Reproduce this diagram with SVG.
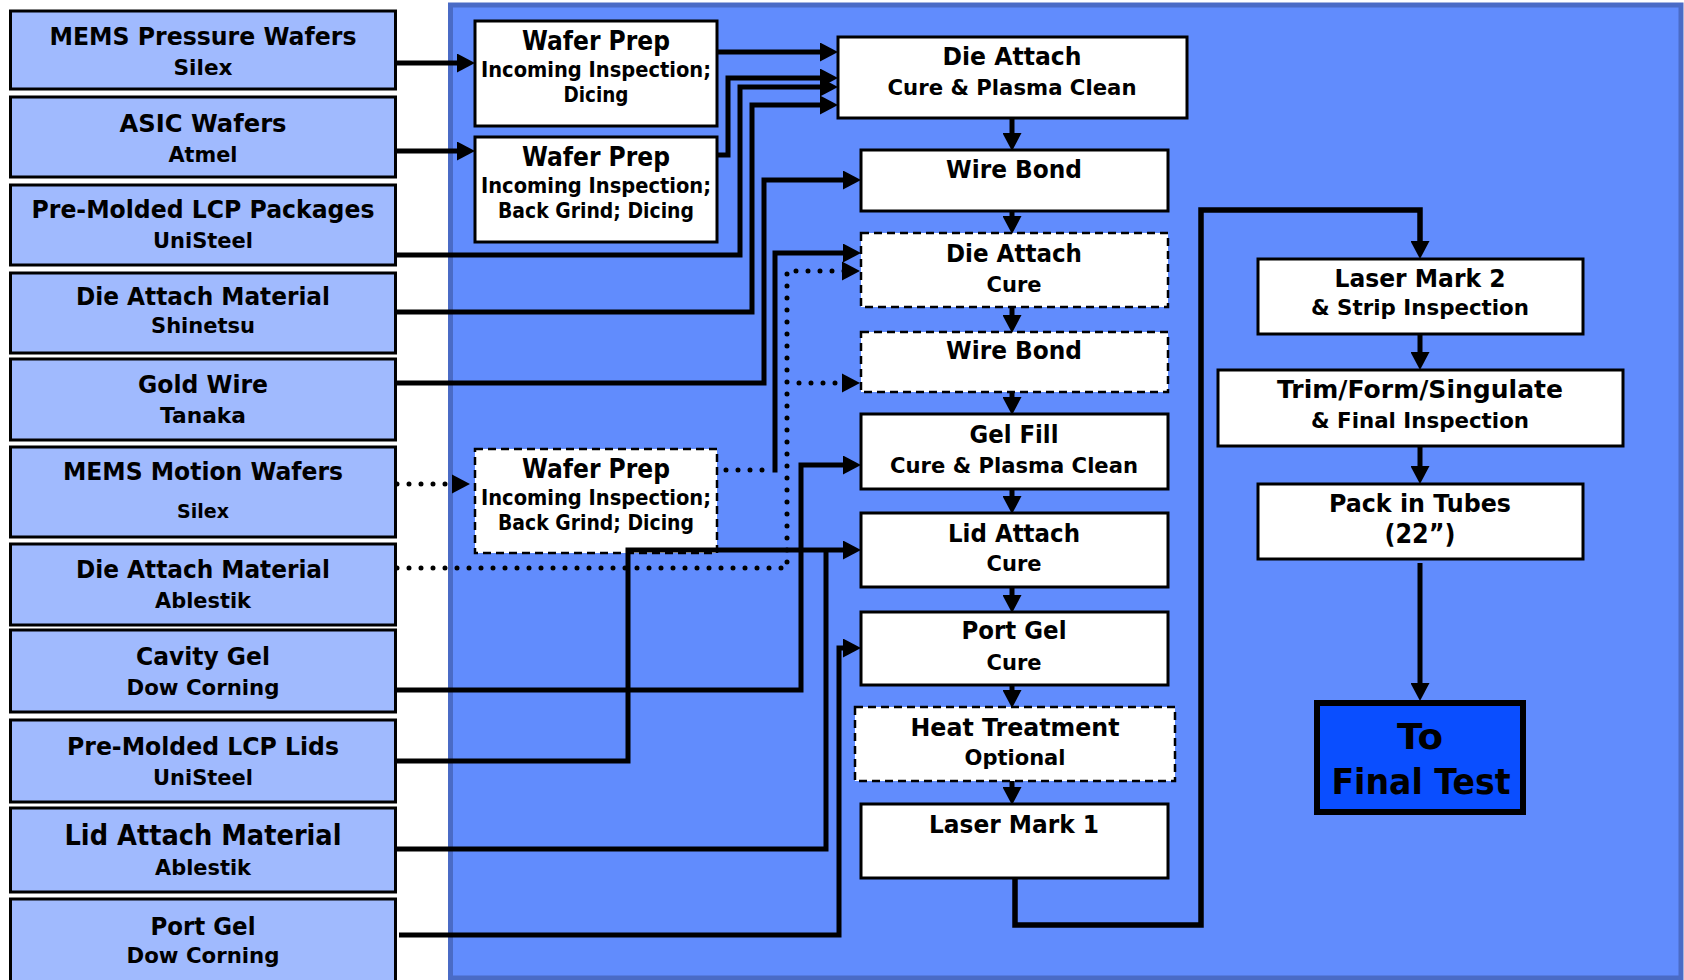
<svg xmlns="http://www.w3.org/2000/svg" width="1684" height="980" viewBox="0 0 1684 980">
<defs>
<marker id="ah" markerUnits="userSpaceOnUse" markerWidth="18" markerHeight="19" refX="9" refY="9.5" orient="auto">
<path d="M0,0 L18,9.5 L0,19 Z" fill="#000"/>
</marker>
<style>
text{font-family:"DejaVu Sans","Liberation Sans",sans-serif;font-weight:bold;fill:#000;text-anchor:middle}
.t{font-size:25.5px}
.s{font-size:22px}
.w{font-size:20.5px}
.big{font-size:35px}
.src{fill:#A0BAFE;stroke:#000;stroke-width:3}
.box{fill:#fff;stroke:#000;stroke-width:3}
.dbox{fill:#fff;stroke:#000;stroke-width:2.5;stroke-dasharray:8 5}
.ln{fill:none;stroke:#000;stroke-width:5;stroke-linejoin:miter}
.dot{fill:none;stroke:#000;stroke-width:5;stroke-linecap:round;stroke-dasharray:0 12}
</style>
</defs>
<rect width="1684" height="980" fill="#fff"/>
<rect id="panel" x="450.5" y="5" width="1230.5" height="973" fill="#618CFD" stroke="#4A6BC6" stroke-width="5"/>

<g id="src-mems-pressure"><rect class="src" x="10.5" y="11" width="385" height="78"/><text class="t" x="203" y="45" textLength="307" lengthAdjust="spacingAndGlyphs">MEMS Pressure Wafers</text><text class="s" x="203" y="75" textLength="59" lengthAdjust="spacingAndGlyphs">Silex</text></g>
<g id="src-asic"><rect class="src" x="10.5" y="97" width="385" height="80"/><text class="t" x="203" y="132" textLength="167" lengthAdjust="spacingAndGlyphs">ASIC Wafers</text><text class="s" x="203" y="162" textLength="69" lengthAdjust="spacingAndGlyphs">Atmel</text></g>
<g id="src-lcp-packages"><rect class="src" x="10.5" y="185" width="385" height="80"/><text class="t" x="203" y="218" textLength="343" lengthAdjust="spacingAndGlyphs">Pre-Molded LCP Packages</text><text class="s" x="203" y="248" textLength="100" lengthAdjust="spacingAndGlyphs">UniSteel</text></g>
<g id="src-die-attach-shinetsu"><rect class="src" x="10.5" y="273" width="385" height="80"/><text class="t" x="203" y="305" textLength="254" lengthAdjust="spacingAndGlyphs">Die Attach Material</text><text class="s" x="203" y="333" textLength="104" lengthAdjust="spacingAndGlyphs">Shinetsu</text></g>
<g id="src-gold-wire"><rect class="src" x="10.5" y="359" width="385" height="81"/><text class="t" x="203" y="393" textLength="130" lengthAdjust="spacingAndGlyphs">Gold Wire</text><text class="s" x="203" y="423" textLength="86" lengthAdjust="spacingAndGlyphs">Tanaka</text></g>
<g id="src-mems-motion"><rect class="src" x="10.5" y="447" width="385" height="90"/><text class="t" x="203" y="480" textLength="280" lengthAdjust="spacingAndGlyphs">MEMS Motion Wafers</text><text class="s" x="203" y="518" style="font-size:20px" textLength="52" lengthAdjust="spacingAndGlyphs">Silex</text></g>
<g id="src-die-attach-ablestik"><rect class="src" x="10.5" y="544" width="385" height="81"/><text class="t" x="203" y="578" textLength="254" lengthAdjust="spacingAndGlyphs">Die Attach Material</text><text class="s" x="203" y="608" textLength="96" lengthAdjust="spacingAndGlyphs">Ablestik</text></g>
<g id="src-cavity-gel"><rect class="src" x="10.5" y="630" width="385" height="82"/><text class="t" x="203" y="665" textLength="134" lengthAdjust="spacingAndGlyphs">Cavity Gel</text><text class="s" x="203" y="695" textLength="153" lengthAdjust="spacingAndGlyphs">Dow Corning</text></g>
<g id="src-lcp-lids"><rect class="src" x="10.5" y="720" width="385" height="82"/><text class="t" x="203" y="755" textLength="272" lengthAdjust="spacingAndGlyphs">Pre-Molded LCP Lids</text><text class="s" x="203" y="785" textLength="100" lengthAdjust="spacingAndGlyphs">UniSteel</text></g>
<g id="src-lid-attach"><rect class="src" x="10.5" y="808" width="385" height="84"/><text class="t" x="203" y="845" style="font-size:27.5px" textLength="277" lengthAdjust="spacingAndGlyphs">Lid Attach Material</text><text class="s" x="203" y="875" textLength="96" lengthAdjust="spacingAndGlyphs">Ablestik</text></g>
<g id="src-port-gel"><rect class="src" x="10.5" y="899" width="385" height="95"/><text class="t" x="203" y="935" textLength="105" lengthAdjust="spacingAndGlyphs">Port Gel</text><text class="s" x="203" y="963" textLength="153" lengthAdjust="spacingAndGlyphs">Dow Corning</text></g>

<g id="wafer-prep-1"><rect class="box" x="475" y="21" width="242" height="105"/><text class="t" x="596" y="50" style="font-size:27px" textLength="148" lengthAdjust="spacingAndGlyphs">Wafer Prep</text><text class="w" x="596" y="77" textLength="230" lengthAdjust="spacingAndGlyphs">Incoming Inspection;</text><text class="w" x="596" y="102" textLength="65" lengthAdjust="spacingAndGlyphs">Dicing</text></g>
<g id="wafer-prep-2"><rect class="box" x="475" y="137" width="242" height="105"/><text class="t" x="596" y="166" style="font-size:27px" textLength="148" lengthAdjust="spacingAndGlyphs">Wafer Prep</text><text class="w" x="596" y="193" textLength="230" lengthAdjust="spacingAndGlyphs">Incoming Inspection;</text><text class="w" x="596" y="218" textLength="196" lengthAdjust="spacingAndGlyphs">Back Grind; Dicing</text></g>
<g id="wafer-prep-3"><rect class="dbox" x="475" y="449" width="242" height="104"/><text class="t" x="596" y="478" style="font-size:27px" textLength="148" lengthAdjust="spacingAndGlyphs">Wafer Prep</text><text class="w" x="596" y="505" textLength="230" lengthAdjust="spacingAndGlyphs">Incoming Inspection;</text><text class="w" x="596" y="530" textLength="196" lengthAdjust="spacingAndGlyphs">Back Grind; Dicing</text></g>

<g id="die-attach-1"><rect class="box" x="838" y="37" width="349" height="81"/><text class="t" x="1012" y="65" textLength="139" lengthAdjust="spacingAndGlyphs">Die Attach</text><text class="s" x="1012" y="95" textLength="249" lengthAdjust="spacingAndGlyphs">Cure &amp; Plasma Clean</text></g>
<g id="wire-bond-1"><rect class="box" x="861" y="150" width="307" height="61"/><text class="t" x="1014" y="178" textLength="136" lengthAdjust="spacingAndGlyphs">Wire Bond</text></g>
<g id="die-attach-2"><rect class="dbox" x="861" y="233" width="307" height="74"/><text class="t" x="1014" y="262" textLength="136" lengthAdjust="spacingAndGlyphs">Die Attach</text><text class="s" x="1014" y="292" textLength="55" lengthAdjust="spacingAndGlyphs">Cure</text></g>
<g id="wire-bond-2"><rect class="dbox" x="861" y="332" width="307" height="60"/><text class="t" x="1014" y="359" textLength="136" lengthAdjust="spacingAndGlyphs">Wire Bond</text></g>
<g id="gel-fill"><rect class="box" x="861" y="414" width="307" height="75"/><text class="t" x="1014" y="443" textLength="89" lengthAdjust="spacingAndGlyphs">Gel Fill</text><text class="s" x="1014" y="473" textLength="248" lengthAdjust="spacingAndGlyphs">Cure &amp; Plasma Clean</text></g>
<g id="lid-attach"><rect class="box" x="861" y="513" width="307" height="74"/><text class="t" x="1014" y="542" textLength="132" lengthAdjust="spacingAndGlyphs">Lid Attach</text><text class="s" x="1014" y="571" textLength="55" lengthAdjust="spacingAndGlyphs">Cure</text></g>
<g id="port-gel"><rect class="box" x="861" y="612" width="307" height="73"/><text class="t" x="1014" y="639" textLength="105" lengthAdjust="spacingAndGlyphs">Port Gel</text><text class="s" x="1014" y="670" textLength="55" lengthAdjust="spacingAndGlyphs">Cure</text></g>
<g id="heat-treatment"><rect class="dbox" x="855" y="707" width="320" height="74"/><text class="t" x="1015" y="736" textLength="209" lengthAdjust="spacingAndGlyphs">Heat Treatment</text><text class="s" x="1015" y="765" textLength="101" lengthAdjust="spacingAndGlyphs">Optional</text></g>
<g id="laser-mark-1"><rect class="box" x="861" y="804" width="307" height="74"/><text class="t" x="1014" y="833" textLength="170" lengthAdjust="spacingAndGlyphs">Laser Mark 1</text></g>

<g id="laser-mark-2"><rect class="box" x="1258" y="259" width="325" height="75"/><text class="t" x="1420" y="287" textLength="171" lengthAdjust="spacingAndGlyphs">Laser Mark 2</text><text class="s" x="1420" y="315" textLength="218" lengthAdjust="spacingAndGlyphs">&amp; Strip Inspection</text></g>
<g id="trim-form"><rect class="box" x="1218" y="370" width="405" height="76"/><text class="t" x="1420" y="398" textLength="286" lengthAdjust="spacingAndGlyphs">Trim/Form/Singulate</text><text class="s" x="1420" y="428" textLength="218" lengthAdjust="spacingAndGlyphs">&amp; Final Inspection</text></g>
<g id="pack-tubes"><rect class="box" x="1258" y="484" width="325" height="75"/><text class="t" x="1420" y="512" textLength="182" lengthAdjust="spacingAndGlyphs">Pack in Tubes</text><text class="t" x="1420" y="543" style="font-size:26.5px" textLength="71" lengthAdjust="spacingAndGlyphs">(22”)</text></g>
<g id="final-test"><rect x="1317" y="703" width="206" height="109" fill="#0A4EFF" stroke="#000" stroke-width="6"/><text class="big" x="1420" y="749" textLength="46" lengthAdjust="spacingAndGlyphs">To</text><text class="big" x="1421" y="794" textLength="179" lengthAdjust="spacingAndGlyphs">Final Test</text></g>

<g id="connectors">
<path class="ln" d="M397,63 H466" marker-end="url(#ah)"/>
<path class="ln" d="M397,151 H466" marker-end="url(#ah)"/>
<path class="ln" d="M717,52 H829" marker-end="url(#ah)"/>
<path class="ln" d="M717,155 H728 V78 H829" marker-end="url(#ah)"/>
<path class="ln" d="M397,255 H740 V87 H829" marker-end="url(#ah)"/>
<path class="ln" d="M397,312 H752 V105 H829" marker-end="url(#ah)"/>
<path class="ln" d="M397,383 H764 V180 H852" marker-end="url(#ah)"/>
<path class="dot" d="M726,470 H768"/>
<path class="ln" d="M775,472.5 V253 H852" marker-end="url(#ah)"/>
<path class="dot" d="M397,484 H457"/>
<path d="M452,474.5 L470,484 L452,493.5 Z" fill="#000"/>
<path class="dot" d="M397,568 H787 V271 H848"/>
<path d="M842,261.5 L860,271 L842,280.5 Z" fill="#000"/>
<path class="dot" d="M799,383 H848"/>
<path d="M842,373.5 L860,383 L842,392.5 Z" fill="#000"/>
<path class="ln" d="M397,690 H801 V465 H852" marker-end="url(#ah)"/>
<path class="ln" d="M397,761 H628 V550 H852" marker-end="url(#ah)"/>
<path class="ln" d="M397,849 H826 V548"/>
<path class="ln" d="M399,935 H839 V648 H852" marker-end="url(#ah)"/>
<path class="ln" d="M1012,118 V142" marker-end="url(#ah)"/>
<path class="ln" d="M1012,211 V225" marker-end="url(#ah)"/>
<path class="ln" d="M1012,307 V324" marker-end="url(#ah)"/>
<path class="ln" d="M1012,392 V406" marker-end="url(#ah)"/>
<path class="ln" d="M1012,489 V505" marker-end="url(#ah)"/>
<path class="ln" d="M1012,587 V604" marker-end="url(#ah)"/>
<path class="ln" d="M1012,685 V699" marker-end="url(#ah)"/>
<path class="ln" d="M1012,781 V796" marker-end="url(#ah)"/>
<path class="ln" style="stroke-width:5.5" d="M1015,878 V925 H1201 V210 H1420 V250" marker-end="url(#ah)"/>
<path class="ln" d="M1420,334 V361" marker-end="url(#ah)"/>
<path class="ln" d="M1420,446 V475" marker-end="url(#ah)"/>
<path class="ln" d="M1420,563 V692" marker-end="url(#ah)"/>
</g>
</svg>
